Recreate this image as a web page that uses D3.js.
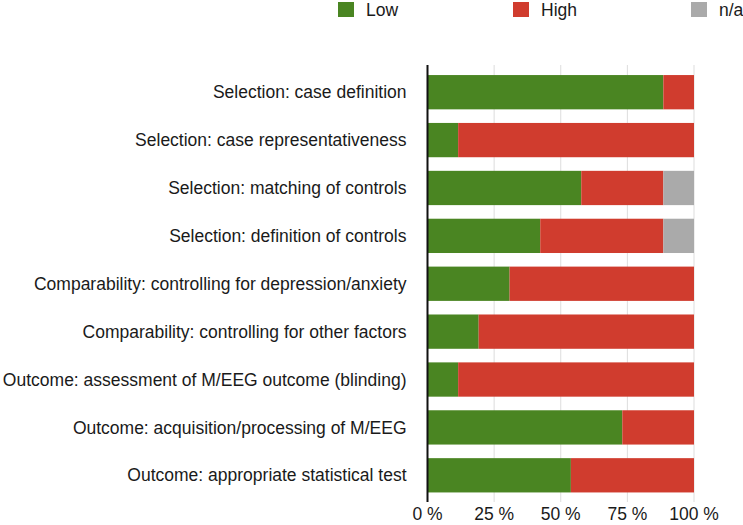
<!DOCTYPE html>
<html><head><meta charset="utf-8">
<script src="https://cdn.jsdelivr.net/npm/d3@7"></script>
<style>body{margin:0;background:#fff;} text{font-family:"Liberation Sans",Arial,sans-serif;}</style>
</head><body>
<svg id="c" width="743" height="525"></svg>
<script>
const categories = [
  "Selection: case definition",
  "Selection: case representativeness",
  "Selection: matching of controls",
  "Selection: definition of controls",
  "Comparability: controlling for depression/anxiety",
  "Comparability: controlling for other factors",
  "Outcome: assessment of M/EEG outcome (blinding)",
  "Outcome: acquisition/processing of M/EEG",
  "Outcome: appropriate statistical test"
];
const lowValues  = [88.5, 11.5, 57.7, 42.3, 30.8, 19.2, 11.5, 73.1, 53.8];
const highValues = [11.5, 88.5, 30.8, 46.2, 69.2, 80.8, 88.5, 26.9, 46.2];
const naValues   = [0, 0, 11.5, 11.5, 0, 0, 0, 0, 0];
const seriesNames = ["Low", "High", "n/a"];
const seriesColors = ["#4a8522", "#d03c2e", "#aaaaaa"];
const tickValues = [0, 25, 50, 75, 100];
const tickLabels = ["0 %", "25 %", "50 %", "75 %", "100 %"];

const svg = d3.select("#c");
const x = d3.scaleLinear().domain([0, 100]).range([427.5, 694]);
const y = d3.scaleBand().domain(categories).range([65, 502.5]).paddingInner(0.284).paddingOuter(0.21);

const rows = categories.map((c, i) => ({cat: c, Low: lowValues[i], High: highValues[i], "n/a": naValues[i]}));
const stacked = d3.stack().keys(seriesNames)(rows);

// gridlines
svg.append("g").selectAll("line").data(tickValues.slice(1)).join("line")
  .attr("x1", d => x(d)).attr("x2", d => x(d))
  .attr("y1", 65).attr("y2", 502)
  .attr("stroke", "#dddddd").attr("stroke-width", 1);

// bars
svg.append("g").selectAll("g").data(stacked).join("g")
  .attr("fill", (d, i) => seriesColors[i])
  .selectAll("rect").data(d => d).join("rect")
  .attr("x", d => x(d[0]))
  .attr("width", d => x(d[1]) - x(d[0]))
  .attr("y", d => y(d.data.cat))
  .attr("height", y.bandwidth());

// zero axis line
svg.append("line").attr("x1", x(0)).attr("x2", x(0)).attr("y1", 65).attr("y2", 502)
  .attr("stroke", "#111").attr("stroke-width", 2);

// category labels
svg.append("g").selectAll("text").data(categories).join("text")
  .attr("x", x(0) - 21)
  .attr("y", d => y(d) + y.bandwidth() / 2)
  .attr("dy", "0.35em")
  .attr("text-anchor", "end")
  .attr("font-size", 17.5)
  .attr("fill", "#1a1a1a")
  .text(d => d);

// x tick labels
svg.append("g").selectAll("text").data(tickValues).join("text")
  .attr("x", d => x(d))
  .attr("y", 520)
  .attr("text-anchor", "middle")
  .attr("font-size", 17.5)
  .attr("fill", "#1a1a1a")
  .text((d, i) => tickLabels[i]);

// legend
const legendX = [338, 513, 691];
const lg = svg.append("g").selectAll("g").data(seriesNames).join("g")
  .attr("transform", (d, i) => `translate(${legendX[i]},2)`);
lg.append("rect").attr("width", 16).attr("height", 15).attr("fill", (d, i) => seriesColors[i]);
lg.append("text").attr("x", 28).attr("y", 14).attr("font-size", 17.5).attr("fill", "#1a1a1a").text(d => d);
</script>
</body></html>
